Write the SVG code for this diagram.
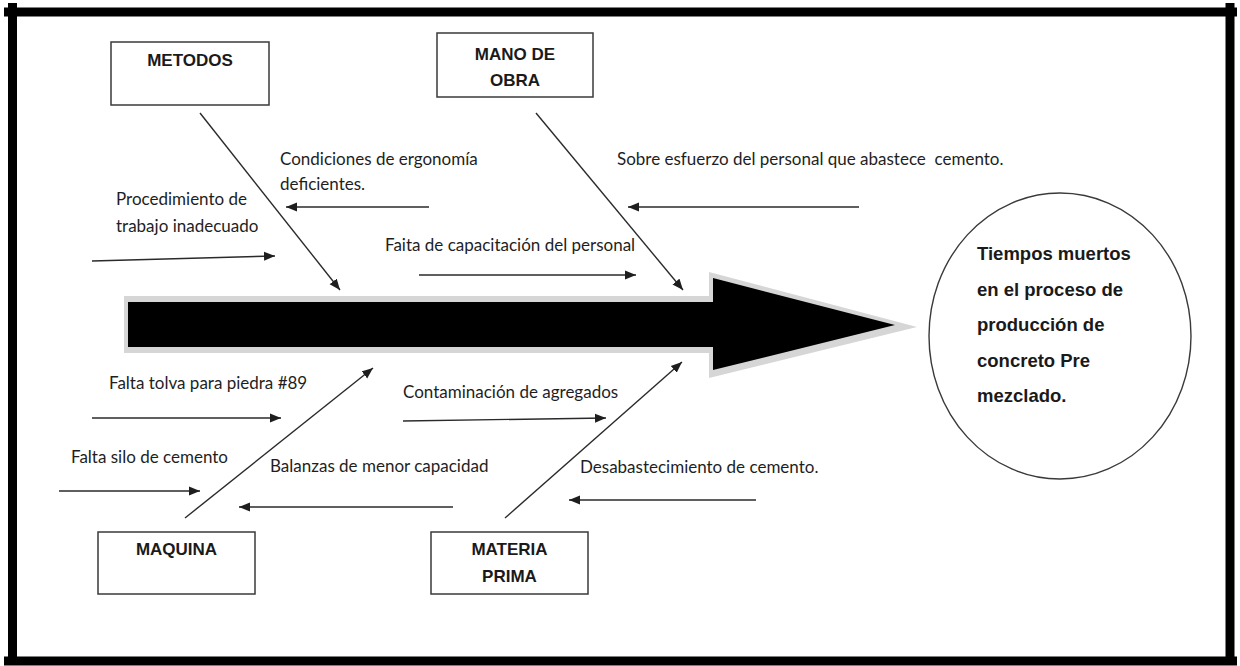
<svg xmlns="http://www.w3.org/2000/svg" width="1240" height="666" viewBox="0 0 1240 666">
<style>
.cause{font-family:"Lato","Open Sans",sans-serif;font-size:17px;fill:#1e1e1e}
.cat{font-family:"Liberation Sans",Arial,sans-serif;font-size:17px;font-weight:bold;fill:#1a1a1a;text-anchor:middle}
.eff{font-family:"Liberation Sans",Arial,sans-serif;font-size:18.5px;font-weight:bold;fill:#1a1a1a}
.box{fill:#fff;stroke:#3a3a3a;stroke-width:1.5}
.con{stroke:#2a2a2a;stroke-width:1.4;fill:none;marker-end:url(#ah)}
.frame{stroke:#000;stroke-width:9;fill:none}
</style>
<defs>
<marker id="ah" markerUnits="userSpaceOnUse" markerWidth="12" markerHeight="10" refX="11" refY="5" orient="auto">
<path d="M0,0.5 L11,5 L0,9.5 z" fill="#1e1e1e"/>
</marker>
</defs>
<rect width="1240" height="666" fill="#fff"/>
<g id="frame">
<line class="frame" x1="4" y1="12" x2="1237" y2="12"/>
<line class="frame" x1="12.5" y1="3" x2="12.5" y2="665"/>
<line class="frame" x1="1230" y1="3" x2="1230" y2="665"/>
<line class="frame" x1="4" y1="661" x2="1237" y2="661"/>
</g>
<g id="spine">
<polygon points="124,296 709,296 709,272 917,327 709,378 709,353 124,353" fill="#d6d6d6"/>
<polygon points="128,302 713,302 713,278 895,325 713,370 713,347 128,347" fill="#000"/>
</g>
<g id="connectors">
<line class="con" x1="200" y1="113" x2="340" y2="290"/>
<line class="con" x1="536" y1="113" x2="683" y2="290"/>
<line class="con" x1="185" y1="518" x2="373" y2="368"/>
<line class="con" x1="505" y1="518" x2="682" y2="362"/>
<line class="con" x1="429" y1="207" x2="286" y2="207"/>
<line class="con" x1="92" y1="261" x2="275" y2="256"/>
<line class="con" x1="859" y1="207" x2="628" y2="207"/>
<line class="con" x1="419" y1="275" x2="636" y2="275"/>
<line class="con" x1="92" y1="418" x2="281" y2="418"/>
<line class="con" x1="403" y1="421" x2="606" y2="418"/>
<line class="con" x1="59" y1="491" x2="200" y2="491"/>
<line class="con" x1="453" y1="507" x2="239" y2="507"/>
<line class="con" x1="756" y1="500" x2="569" y2="500"/>
</g>
<g id="metodos">
<rect class="box" x="111" y="42" width="158" height="63"/>
<text class="cat" x="190" y="66">METODOS</text>
</g>
<g id="mano-de-obra">
<rect class="box" x="437" y="33" width="156" height="64"/>
<text class="cat" x="515" y="60">MANO DE</text>
<text class="cat" x="515" y="86">OBRA</text>
</g>
<g id="maquina">
<rect class="box" x="98" y="532" width="157" height="62"/>
<text class="cat" x="176.5" y="555">MAQUINA</text>
</g>
<g id="materia-prima">
<rect class="box" x="431" y="532" width="157" height="62"/>
<text class="cat" x="509.5" y="555">MATERIA</text>
<text class="cat" x="509.5" y="582">PRIMA</text>
</g>
<g id="efecto">
<ellipse cx="1060" cy="336" rx="131" ry="143" fill="#fff" stroke="#3a3a3a" stroke-width="1.4"/>
<text class="eff" x="977" y="260">Tiempos muertos</text>
<text class="eff" x="977" y="296">en el proceso de</text>
<text class="eff" x="977" y="331">producción de</text>
<text class="eff" x="977" y="367">concreto Pre</text>
<text class="eff" x="977" y="402">mezclado.</text>
</g>
<g id="causes">
<text class="cause" x="280" y="165">Condiciones de ergonomía</text>
<text class="cause" x="280" y="190">deficientes.</text>
<text class="cause" x="116" y="205">Procedimiento de</text>
<text class="cause" x="116" y="232">trabajo inadecuado</text>
<text class="cause" x="617" y="165" xml:space="preserve" style="white-space:pre">Sobre esfuerzo del personal que abastece  cemento.</text>
<text class="cause" x="385" y="251">Faita de capacitación del personal</text>
<text class="cause" x="109" y="389">Falta tolva para piedra #89</text>
<text class="cause" x="403" y="398">Contaminación de agregados</text>
<text class="cause" x="71" y="463">Falta silo de cemento</text>
<text class="cause" x="270" y="472">Balanzas de menor capacidad</text>
<text class="cause" x="580" y="473">Desabastecimiento de cemento.</text>
</g>
</svg>
